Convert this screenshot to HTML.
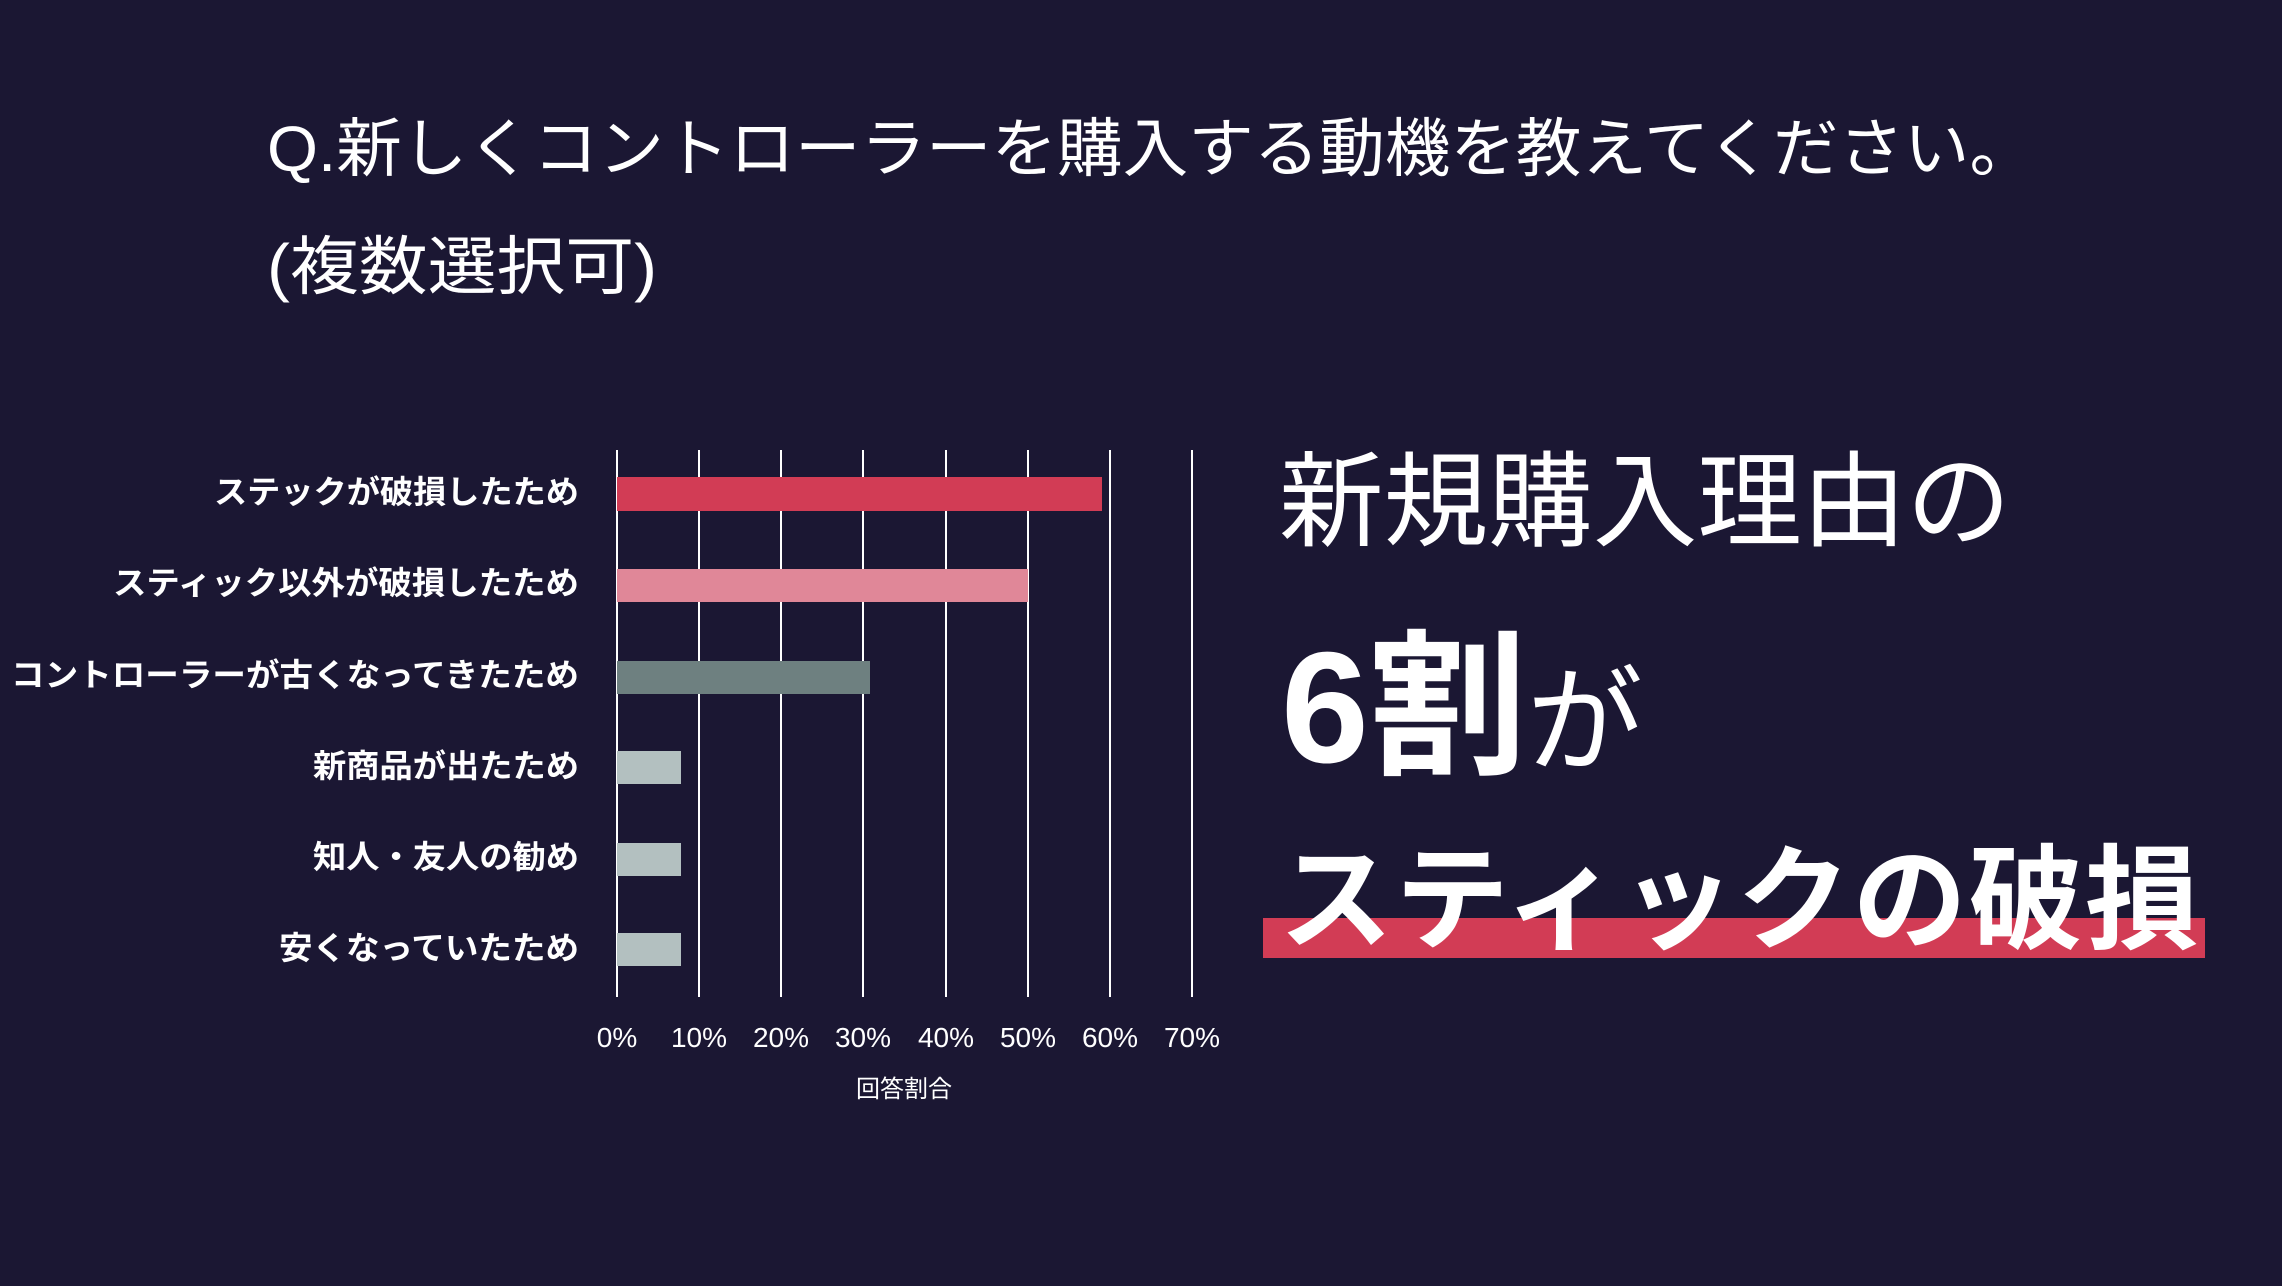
<!DOCTYPE html>
<html><head><meta charset="utf-8"><style>
html,body{margin:0;padding:0;background:#1b1733;}
svg{display:block}
text{font-family:"Liberation Sans","Noto Sans CJK JP",sans-serif;fill:#fff}
</style></head><body>
<svg width="2282" height="1286" viewBox="0 0 2282 1286" xmlns="http://www.w3.org/2000/svg">
<rect width="2282" height="1286" fill="#1b1733"/>
<text x="267" y="171" font-size="64" textLength="1768" lengthAdjust="spacingAndGlyphs">Q.新しくコントローラーを購入する動機を教えてください。</text>
<text x="267" y="289" font-size="64" textLength="390" lengthAdjust="spacingAndGlyphs">(複数選択可)</text>
<g stroke="#ffffff" stroke-width="2">
<line x1="617" y1="450" x2="617" y2="997"/>
<line x1="699" y1="450" x2="699" y2="997"/>
<line x1="781" y1="450" x2="781" y2="997"/>
<line x1="863" y1="450" x2="863" y2="997"/>
<line x1="946" y1="450" x2="946" y2="997"/>
<line x1="1028" y1="450" x2="1028" y2="997"/>
<line x1="1110" y1="450" x2="1110" y2="997"/>
<line x1="1192" y1="450" x2="1192" y2="997"/>
</g>
<rect x="617" y="477" width="485" height="34" fill="#d23c55"/>
<rect x="617" y="569" width="411" height="33" fill="#e08798"/>
<rect x="617" y="661" width="253" height="33" fill="#6e8080"/>
<rect x="617" y="751" width="64" height="33" fill="#b3c0c0"/>
<rect x="617" y="843" width="64" height="33" fill="#b3c0c0"/>
<rect x="617" y="933" width="64" height="33" fill="#b3c0c0"/>
<g font-size="32" font-weight="bold" lengthAdjust="spacingAndGlyphs">
<text x="214" y="503" textLength="365" lengthAdjust="spacingAndGlyphs">ステックが破損したため</text>
<text x="113" y="594" textLength="466" lengthAdjust="spacingAndGlyphs">スティック以外が破損したため</text>
<text x="11" y="686" textLength="568" lengthAdjust="spacingAndGlyphs">コントローラーが古くなってきたため</text>
<text x="313" y="777" textLength="266" lengthAdjust="spacingAndGlyphs">新商品が出たため</text>
<text x="313" y="868" textLength="266" lengthAdjust="spacingAndGlyphs">知人・友人の勧め</text>
<text x="279" y="959" textLength="300" lengthAdjust="spacingAndGlyphs">安くなっていたため</text>
</g>
<g font-size="28" text-anchor="middle">
<text x="617" y="1047">0%</text>
<text x="699" y="1047">10%</text>
<text x="781" y="1047">20%</text>
<text x="863" y="1047">30%</text>
<text x="946" y="1047">40%</text>
<text x="1028" y="1047">50%</text>
<text x="1110" y="1047">60%</text>
<text x="1192" y="1047">70%</text>
</g>
<text x="904" y="1097" font-size="24" text-anchor="middle">回答割合</text>
<text x="1279" y="538" font-size="104" textLength="732" lengthAdjust="spacingAndGlyphs">新規購入理由の</text>
<text x="1281" y="762" font-size="158" font-weight="bold">6割<tspan font-size="116" font-weight="normal">が</tspan></text>
<rect x="1263" y="918" width="942" height="40" fill="#d23c55"/>
<text x="1279" y="940" font-size="114" font-weight="bold" textLength="920">スティックの破損</text>
</svg>
</body></html>
